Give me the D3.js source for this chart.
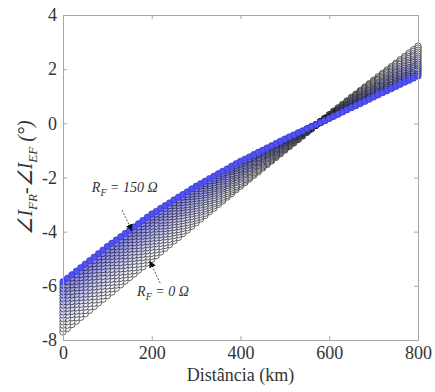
<!DOCTYPE html>
<html>
<head>
<meta charset="utf-8">
<script src="https://cdn.jsdelivr.net/npm/d3@7"></script>
<style>
  body { margin: 0; background: #fff; }
  svg { display: block; }
  .axis text { font-family: "Liberation Serif", "Times New Roman", serif; font-size: 18px; fill: #333; }
  .axis path, .axis line { stroke: #a6a6a6; }
  .note { font-family: "Liberation Serif", "Times New Roman", serif; font-style: italic; fill: #333; }
</style>
</head>
<body>
<div id="chart"></div>
<script>
// fault distance (km) for every marker
const distances = [0,10,20,30,40,50,60,70,80,90,100,110,120,130,140,150,160,170,180,190,
  200,210,220,230,240,250,260,270,280,290,300,310,320,330,340,350,360,370,380,390,
  400,410,420,430,440,450,460,470,480,490,500,510,520,530,540,550,560,570,580,590,
  600,610,620,630,640,650,660,670,680,690,700,710,720,730,740,750,760,770,780,790,800];

// fault resistance of each curve (ohm)
const rfValues = [0,10,20,30,40,50,60,70,80,90,100,110,120,130,140,150];

// angle difference (deg), one array per fault resistance
const rf0 = [-7.70,-7.57,-7.43,-7.30,-7.16,-7.03,-6.90,-6.76,-6.63,-6.49,
 -6.36,-6.23,-6.09,-5.96,-5.82,-5.69,-5.56,-5.42,-5.29,-5.15,
 -5.02,-4.88,-4.75,-4.61,-4.48,-4.34,-4.21,-4.07,-3.94,-3.80,
 -3.67,-3.53,-3.40,-3.26,-3.13,-2.99,-2.86,-2.72,-2.59,-2.45,
 -2.32,-2.19,-2.05,-1.92,-1.79,-1.65,-1.52,-1.39,-1.26,-1.12,
 -0.99,-0.86,-0.73,-0.60,-0.47,-0.33,-0.20,-0.07,0.06,0.19,
 0.32,0.45,0.57,0.70,0.83,0.96,1.08,1.21,1.34,1.46,
 1.59,1.72,1.84,1.97,2.09,2.22,2.35,2.47,2.60,2.72,2.85];
const rf10 = [-7.58,-7.45,-7.31,-7.18,-7.04,-6.91,-6.78,-6.64,-6.51,-6.37,
 -6.24,-6.11,-5.97,-5.84,-5.71,-5.57,-5.44,-5.31,-5.18,-5.04,
 -4.91,-4.78,-4.64,-4.51,-4.38,-4.24,-4.11,-3.98,-3.85,-3.71,
 -3.58,-3.45,-3.32,-3.18,-3.05,-2.92,-2.79,-2.66,-2.52,-2.39,
 -2.26,-2.13,-2.00,-1.87,-1.74,-1.61,-1.48,-1.35,-1.22,-1.09,
 -0.96,-0.83,-0.71,-0.58,-0.45,-0.32,-0.20,-0.07,0.06,0.18,
 0.31,0.43,0.56,0.68,0.81,0.93,1.05,1.18,1.30,1.43,
 1.55,1.67,1.80,1.92,2.04,2.17,2.29,2.41,2.53,2.66,2.78];
const rf20 = [-7.45,-7.32,-7.18,-7.05,-6.92,-6.78,-6.65,-6.52,-6.39,-6.25,
 -6.12,-5.99,-5.86,-5.72,-5.59,-5.46,-5.33,-5.20,-5.06,-4.93,
 -4.80,-4.67,-4.54,-4.41,-4.28,-4.14,-4.01,-3.88,-3.75,-3.62,
 -3.49,-3.36,-3.23,-3.10,-2.97,-2.84,-2.72,-2.59,-2.46,-2.33,
 -2.20,-2.07,-1.95,-1.82,-1.70,-1.57,-1.44,-1.32,-1.19,-1.07,
 -0.94,-0.82,-0.69,-0.57,-0.44,-0.32,-0.20,-0.07,0.05,0.18,
 0.30,0.42,0.54,0.66,0.78,0.91,1.03,1.15,1.27,1.39,
 1.51,1.63,1.75,1.87,1.99,2.11,2.22,2.34,2.46,2.58,2.70];
const rf30 = [-7.33,-7.20,-7.06,-6.93,-6.80,-6.66,-6.53,-6.40,-6.27,-6.13,
 -6.00,-5.87,-5.74,-5.61,-5.48,-5.34,-5.21,-5.08,-4.95,-4.82,
 -4.69,-4.56,-4.43,-4.30,-4.17,-4.04,-3.92,-3.79,-3.66,-3.53,
 -3.40,-3.27,-3.15,-3.02,-2.90,-2.77,-2.64,-2.52,-2.39,-2.27,
 -2.14,-2.02,-1.89,-1.77,-1.65,-1.52,-1.40,-1.28,-1.16,-1.03,
 -0.91,-0.79,-0.67,-0.55,-0.43,-0.31,-0.19,-0.07,0.05,0.17,
 0.29,0.41,0.53,0.64,0.76,0.88,1.00,1.12,1.23,1.35,
 1.47,1.59,1.70,1.82,1.93,2.05,2.17,2.28,2.40,2.51,2.63];
const rf40 = [-7.21,-7.08,-6.94,-6.81,-6.68,-6.54,-6.41,-6.28,-6.15,-6.01,
 -5.88,-5.75,-5.62,-5.49,-5.36,-5.22,-5.09,-4.96,-4.83,-4.70,
 -4.57,-4.44,-4.32,-4.19,-4.07,-3.94,-3.81,-3.69,-3.56,-3.44,
 -3.31,-3.19,-3.06,-2.94,-2.81,-2.69,-2.57,-2.44,-2.32,-2.19,
 -2.07,-1.95,-1.83,-1.71,-1.59,-1.47,-1.36,-1.24,-1.12,-1.00,
 -0.88,-0.76,-0.65,-0.53,-0.42,-0.30,-0.18,-0.07,0.05,0.16,
 0.28,0.39,0.51,0.62,0.74,0.85,0.96,1.08,1.19,1.31,
 1.42,1.53,1.65,1.76,1.88,1.99,2.10,2.22,2.33,2.45,2.56];
const rf50 = [-7.08,-6.95,-6.82,-6.68,-6.55,-6.42,-6.29,-6.16,-6.02,-5.89,
 -5.76,-5.63,-5.50,-5.37,-5.24,-5.11,-4.98,-4.85,-4.72,-4.59,
 -4.46,-4.34,-4.21,-4.09,-3.96,-3.84,-3.72,-3.59,-3.47,-3.34,
 -3.22,-3.10,-2.98,-2.86,-2.74,-2.61,-2.49,-2.37,-2.25,-2.13,
 -2.01,-1.89,-1.78,-1.66,-1.55,-1.43,-1.31,-1.20,-1.08,-0.97,
 -0.85,-0.74,-0.63,-0.51,-0.40,-0.29,-0.18,-0.07,0.05,0.16,
 0.27,0.38,0.49,0.60,0.71,0.83,0.94,1.05,1.16,1.27,
 1.38,1.49,1.60,1.71,1.82,1.93,2.04,2.15,2.26,2.37,2.48];
const rf60 = [-6.96,-6.83,-6.70,-6.56,-6.43,-6.30,-6.17,-6.04,-5.90,-5.77,
 -5.64,-5.51,-5.38,-5.25,-5.12,-4.99,-4.87,-4.74,-4.61,-4.48,
 -4.35,-4.23,-4.11,-3.98,-3.86,-3.74,-3.62,-3.50,-3.37,-3.25,
 -3.13,-3.01,-2.89,-2.78,-2.66,-2.54,-2.42,-2.30,-2.19,-2.07,
 -1.95,-1.84,-1.73,-1.61,-1.50,-1.39,-1.28,-1.17,-1.05,-0.94,
 -0.83,-0.72,-0.61,-0.50,-0.39,-0.28,-0.18,-0.07,0.04,0.15,
 0.26,0.37,0.48,0.58,0.69,0.80,0.91,1.02,1.12,1.23,
 1.34,1.45,1.55,1.66,1.77,1.88,1.98,2.09,2.20,2.30,2.41];
const rf70 = [-6.84,-6.71,-6.58,-6.44,-6.31,-6.18,-6.05,-5.92,-5.78,-5.65,
 -5.52,-5.39,-5.26,-5.14,-5.01,-4.88,-4.75,-4.62,-4.50,-4.37,
 -4.24,-4.12,-4.00,-3.88,-3.76,-3.64,-3.52,-3.40,-3.28,-3.16,
 -3.04,-2.92,-2.81,-2.69,-2.58,-2.46,-2.35,-2.23,-2.12,-2.00,
 -1.89,-1.78,-1.67,-1.56,-1.45,-1.34,-1.24,-1.13,-1.02,-0.91,
 -0.80,-0.69,-0.59,-0.48,-0.38,-0.27,-0.17,-0.06,0.04,0.15,
 0.25,0.36,0.46,0.57,0.67,0.78,0.88,0.99,1.09,1.20,
 1.30,1.40,1.51,1.61,1.72,1.82,1.92,2.03,2.13,2.24,2.34];
const rf80 = [-6.71,-6.58,-6.45,-6.31,-6.18,-6.05,-5.92,-5.79,-5.65,-5.52,
 -5.39,-5.26,-5.14,-5.01,-4.89,-4.76,-4.63,-4.51,-4.38,-4.26,
 -4.13,-4.01,-3.89,-3.78,-3.66,-3.54,-3.42,-3.30,-3.19,-3.07,
 -2.95,-2.84,-2.73,-2.61,-2.50,-2.39,-2.28,-2.17,-2.05,-1.94,
 -1.83,-1.72,-1.62,-1.51,-1.41,-1.30,-1.19,-1.09,-0.98,-0.88,
 -0.77,-0.67,-0.57,-0.46,-0.36,-0.26,-0.16,-0.06,0.05,0.15,
 0.25,0.35,0.45,0.55,0.65,0.76,0.86,0.96,1.06,1.16,
 1.26,1.36,1.46,1.56,1.66,1.76,1.86,1.96,2.06,2.16,2.26];
const rf90 = [-6.59,-6.46,-6.33,-6.19,-6.06,-5.93,-5.80,-5.67,-5.53,-5.40,
 -5.27,-5.14,-5.02,-4.89,-4.77,-4.64,-4.52,-4.39,-4.27,-4.14,
 -4.02,-3.90,-3.79,-3.67,-3.56,-3.44,-3.32,-3.21,-3.09,-2.98,
 -2.86,-2.75,-2.64,-2.53,-2.42,-2.31,-2.21,-2.10,-1.99,-1.88,
 -1.77,-1.67,-1.56,-1.46,-1.36,-1.25,-1.15,-1.05,-0.95,-0.84,
 -0.74,-0.64,-0.54,-0.45,-0.35,-0.25,-0.15,-0.05,0.04,0.14,
 0.24,0.34,0.44,0.53,0.63,0.73,0.83,0.93,1.02,1.12,
 1.22,1.32,1.41,1.51,1.61,1.71,1.80,1.90,2.00,2.09,2.19];
const rf100 = [-6.47,-6.34,-6.21,-6.07,-5.94,-5.81,-5.68,-5.55,-5.41,-5.28,
 -5.15,-5.03,-4.90,-4.78,-4.65,-4.53,-4.41,-4.28,-4.16,-4.03,
 -3.91,-3.80,-3.68,-3.57,-3.45,-3.34,-3.23,-3.11,-3.00,-2.88,
 -2.77,-2.66,-2.56,-2.45,-2.35,-2.24,-2.13,-2.03,-1.92,-1.82,
 -1.71,-1.61,-1.51,-1.41,-1.31,-1.21,-1.12,-1.02,-0.92,-0.82,
 -0.72,-0.62,-0.53,-0.43,-0.34,-0.24,-0.15,-0.05,0.04,0.14,
 0.23,0.33,0.42,0.52,0.61,0.71,0.80,0.90,0.99,1.09,
 1.18,1.27,1.37,1.46,1.56,1.65,1.74,1.84,1.93,2.03,2.12];
const rf110 = [-6.34,-6.21,-6.08,-5.95,-5.82,-5.68,-5.55,-5.42,-5.29,-5.16,
 -5.03,-4.91,-4.78,-4.66,-4.54,-4.41,-4.29,-4.17,-4.05,-3.92,
 -3.80,-3.69,-3.58,-3.46,-3.35,-3.24,-3.13,-3.02,-2.90,-2.79,
 -2.68,-2.58,-2.47,-2.37,-2.27,-2.16,-2.06,-1.96,-1.86,-1.75,
 -1.65,-1.55,-1.46,-1.36,-1.27,-1.17,-1.07,-0.98,-0.88,-0.79,
 -0.69,-0.60,-0.51,-0.42,-0.33,-0.23,-0.14,-0.05,0.04,0.13,
 0.22,0.31,0.40,0.50,0.59,0.68,0.77,0.86,0.96,1.05,
 1.14,1.23,1.32,1.41,1.50,1.59,1.68,1.77,1.86,1.95,2.04];
const rf120 = [-6.22,-6.09,-5.96,-5.83,-5.70,-5.56,-5.43,-5.30,-5.17,-5.04,
 -4.91,-4.79,-4.66,-4.54,-4.42,-4.29,-4.17,-4.05,-3.93,-3.80,
 -3.68,-3.57,-3.46,-3.35,-3.24,-3.13,-3.03,-2.92,-2.81,-2.70,
 -2.59,-2.49,-2.39,-2.29,-2.19,-2.08,-1.98,-1.88,-1.78,-1.68,
 -1.58,-1.49,-1.40,-1.30,-1.21,-1.12,-1.03,-0.94,-0.84,-0.75,
 -0.66,-0.57,-0.49,-0.40,-0.31,-0.22,-0.14,-0.05,0.04,0.12,
 0.21,0.30,0.39,0.47,0.56,0.65,0.74,0.83,0.91,1.00,
 1.09,1.18,1.27,1.35,1.44,1.53,1.62,1.71,1.79,1.88,1.97];
const rf130 = [-6.10,-5.97,-5.84,-5.71,-5.58,-5.44,-5.31,-5.18,-5.05,-4.92,
 -4.79,-4.67,-4.55,-4.42,-4.30,-4.18,-4.06,-3.94,-3.81,-3.69,
 -3.57,-3.46,-3.36,-3.25,-3.14,-3.03,-2.93,-2.82,-2.71,-2.61,
 -2.50,-2.40,-2.30,-2.21,-2.11,-2.01,-1.91,-1.81,-1.72,-1.62,
 -1.52,-1.43,-1.34,-1.25,-1.16,-1.07,-0.99,-0.90,-0.81,-0.72,
 -0.63,-0.55,-0.46,-0.38,-0.30,-0.21,-0.13,-0.05,0.03,0.12,
 0.20,0.29,0.37,0.46,0.54,0.63,0.71,0.80,0.88,0.97,
 1.05,1.14,1.22,1.31,1.39,1.48,1.56,1.65,1.73,1.82,1.90];
const rf140 = [-5.97,-5.84,-5.71,-5.58,-5.45,-5.32,-5.19,-5.06,-4.93,-4.80,
 -4.67,-4.55,-4.43,-4.31,-4.19,-4.06,-3.94,-3.82,-3.70,-3.58,
 -3.46,-3.35,-3.25,-3.14,-3.04,-2.93,-2.83,-2.72,-2.62,-2.51,
 -2.41,-2.31,-2.22,-2.12,-2.03,-1.93,-1.84,-1.74,-1.65,-1.55,
 -1.46,-1.37,-1.29,-1.20,-1.12,-1.03,-0.95,-0.86,-0.78,-0.69,
 -0.61,-0.53,-0.45,-0.37,-0.29,-0.21,-0.13,-0.05,0.03,0.11,
 0.19,0.27,0.35,0.44,0.52,0.60,0.68,0.76,0.85,0.93,
 1.01,1.09,1.17,1.25,1.33,1.42,1.50,1.58,1.66,1.74,1.82];
const rf150 = [-5.85,-5.72,-5.59,-5.46,-5.33,-5.20,-5.07,-4.94,-4.81,-4.68,
 -4.55,-4.43,-4.31,-4.19,-4.07,-3.95,-3.83,-3.71,-3.59,-3.47,
 -3.35,-3.25,-3.14,-3.04,-2.94,-2.83,-2.73,-2.63,-2.53,-2.42,
 -2.32,-2.23,-2.14,-2.04,-1.95,-1.86,-1.77,-1.68,-1.58,-1.49,
 -1.40,-1.32,-1.24,-1.15,-1.07,-0.99,-0.91,-0.83,-0.74,-0.66,
 -0.58,-0.50,-0.43,-0.35,-0.28,-0.20,-0.12,-0.05,0.03,0.10,
 0.18,0.26,0.34,0.42,0.50,0.58,0.65,0.73,0.81,0.89,
 0.97,1.05,1.13,1.20,1.28,1.36,1.44,1.52,1.59,1.67,1.75];

const curves = [rf0, rf10, rf20, rf30, rf40, rf50, rf60, rf70, rf80, rf90,
  rf100, rf110, rf120, rf130, rf140, rf150];

const xTicks = [0, 200, 400, 600, 800];
const yTicks = [-8, -6, -4, -2, 0, 2, 4];

const width = 435, height = 392;
const margin = {top: 15, right: 17, bottom: 52, left: 63};
const plotW = width - margin.left - margin.right;
const plotH = height - margin.top - margin.bottom;

const svg = d3.select('#chart').append('svg')
  .attr('width', width)
  .attr('height', height);

const x = d3.scaleLinear().domain([0, 800]).range([0, plotW]);
const y = d3.scaleLinear().domain([-8, 4]).range([plotH, 0]);

const g = svg.append('g')
  .attr('transform', `translate(${margin.left}, ${margin.top})`);

// marker faces fade from white (R_F = 0) to blue (R_F = 150), edges stay dark
const rfMax = d3.max(rfValues);
const fillColor = rf => rf === rfMax ? '#5252f2'
  : d3.interpolateRgb('#ffffff', '#7c7cf0')(Math.pow(rf / rfMax, 1.2));
const edgeColor = rf => rf === rfMax ? '#3030c4' : '#000000';

g.append('defs').append('clipPath').attr('id', 'plot-clip')
  .append('rect').attr('x', -4).attr('y', -4).attr('width', plotW + 8).attr('height', plotH + 8);

const series = g.append('g').attr('clip-path', 'url(#plot-clip)')
  .selectAll('g.series')
  .data(curves.map((vals, i) => ({rf: rfValues[i], pts: vals.map((v, j) => [distances[j], v])})))
  .join('g')
  .attr('class', 'series');

series.selectAll('circle')
  .data(d => d.pts.map(p => ({rf: d.rf, d: p[0], v: p[1]})))
  .join('circle')
  .attr('cx', d => x(d.d))
  .attr('cy', d => y(d.v))
  .attr('r', 3.2)
  .attr('fill', d => fillColor(d.rf))
  .attr('stroke', d => edgeColor(d.rf))
  .attr('stroke-width', d => d.rf === rfMax ? 0.6 : 0.6);

// axes (MATLAB style box, ticks pointing inwards)
g.append('g')
  .attr('class', 'axis')
  .attr('transform', `translate(0, ${plotH})`)
  .call(d3.axisBottom(x).tickValues(xTicks).tickSizeInner(-4).tickSizeOuter(0).tickPadding(6));

g.append('g')
  .attr('class', 'axis')
  .call(d3.axisTop(x).tickValues(xTicks).tickSizeInner(-4).tickSizeOuter(0).tickFormat(''));

g.append('g')
  .attr('class', 'axis')
  .call(d3.axisLeft(y).tickValues(yTicks).tickSizeInner(-4).tickSizeOuter(0).tickPadding(6)
    .tickFormat(d => String(d)));

g.append('g')
  .attr('class', 'axis')
  .attr('transform', `translate(${plotW}, 0)`)
  .call(d3.axisRight(y).tickValues(yTicks).tickSizeInner(-4).tickSizeOuter(0).tickFormat(''));

// x label
svg.append('text')
  .attr('x', margin.left + plotW / 2)
  .attr('y', height - 11)
  .attr('text-anchor', 'middle')
  .style('font-family', '"Liberation Serif", "Times New Roman", serif')
  .style('font-size', '18px')
  .style('fill', '#333')
  .text('Distância (km)');

// y label
const yLab = svg.append('text')
  .attr('transform', `translate(32, ${margin.top + plotH / 2}) rotate(-90)`)
  .attr('text-anchor', 'middle')
  .style('font-family', '"Liberation Serif", "Times New Roman", serif')
  .style('font-style', 'italic')
  .style('font-size', '20px')
  .style('fill', '#333');
yLab.append('tspan').text('∠I');
yLab.append('tspan').attr('dy', 5).style('font-size', '13px').text('FR');
yLab.append('tspan').attr('dy', -5).text('-∠I');
yLab.append('tspan').attr('dy', 5).style('font-size', '13px').text('EF');
yLab.append('tspan').attr('dy', -5).text(' (°)');

// annotations
svg.append('defs').append('marker')
  .attr('id', 'arrow')
  .attr('viewBox', '0 0 10 10')
  .attr('refX', 10).attr('refY', 5)
  .attr('markerWidth', 7).attr('markerHeight', 7)
  .attr('orient', 'auto')
  .attr('markerUnits', 'userSpaceOnUse')
  .append('path').attr('d', 'M0,0L10,5L0,10z').attr('fill', '#111');

function note(rf, textAt, from, to) {
  const t = g.append('text')
    .attr('class', 'note')
    .attr('x', x(textAt[0]))
    .attr('y', y(textAt[1]))
    .style('font-size', '14px');
  t.append('tspan').text('R');
  t.append('tspan').attr('dy', 4).style('font-size', '10px').text('F');
  t.append('tspan').attr('dy', -4).text(` = ${rf} Ω`);
  g.append('line')
    .attr('x1', x(from[0])).attr('y1', y(from[1]))
    .attr('x2', x(to[0])).attr('y2', y(to[1]))
    .attr('stroke', '#333')
    .attr('stroke-width', 0.8)
    .attr('stroke-dasharray', '2,1.5')
    .attr('marker-end', 'url(#arrow)');
}

note(rfValues[15], [65, -2.54], [133, -3.2], [156, -3.98]);
note(rfValues[0], [167, -6.37], [219, -5.9], [195, -5.07]);
</script>
</body>
</html>
